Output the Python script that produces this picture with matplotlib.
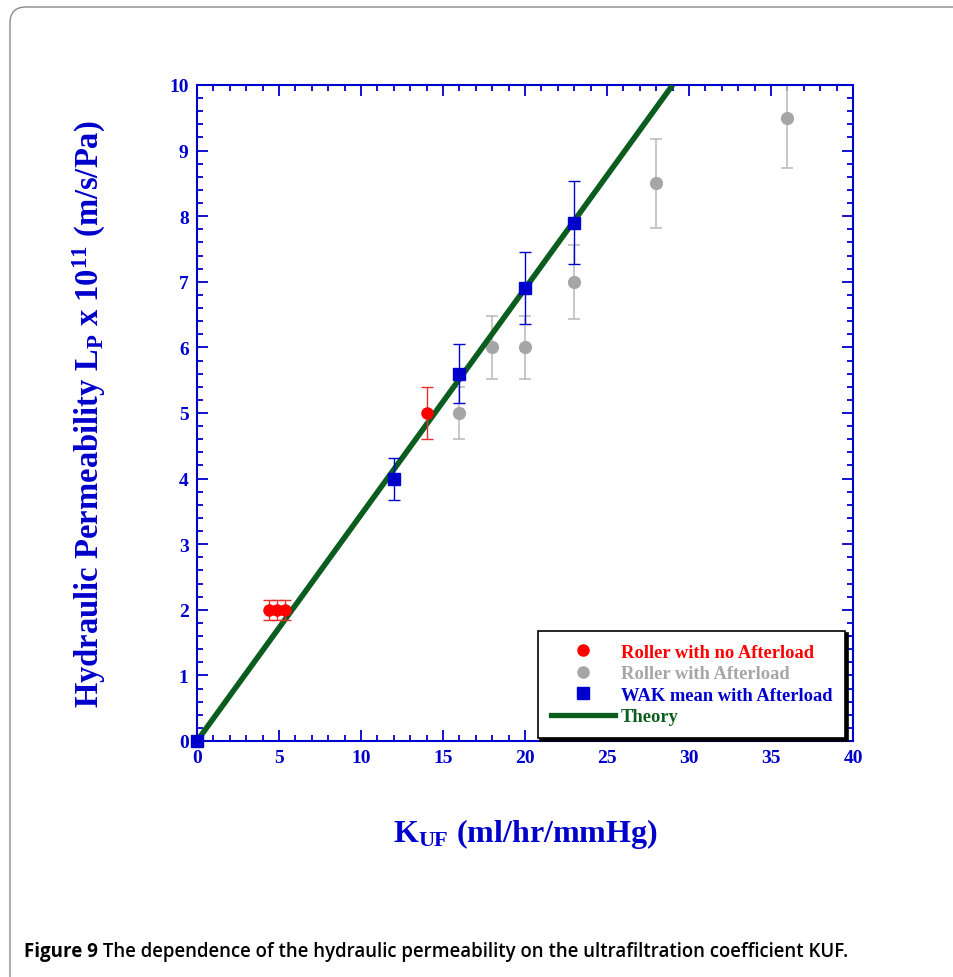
import matplotlib as mpl
mpl.use('Agg')
import matplotlib.pyplot as plt
import matplotlib.lines as mlines
from matplotlib.path import Path
from matplotlib.patches import PathPatch
from matplotlib.ticker import MultipleLocator

# --- data -----------------------------------------------------------------
red_x = [4.4, 4.9, 5.35, 14]
red_y = [2, 2, 2, 5]
red_err = [0.15, 0.15, 0.15, 0.4]

grey_x = [16, 18, 20, 23, 28, 36]
grey_y = [5, 6, 6, 7, 8.5, 9.5]
grey_err = [0.4, 0.48, 0.48, 0.56, 0.68, 0.77]

blue_x = [0, 12, 16, 20, 23]
blue_y = [0, 4, 5.6, 6.9, 7.9]
blue_err = [0, 0.32, 0.45, 0.55, 0.63]

theory_x = [0, 29]
theory_y = [0, 10]

labels = ['Roller with no Afterload', 'Roller with Afterload',
          'WAK mean with Afterload', 'Theory']

# --- style ----------------------------------------------------------------
BLUE = '#0000cc'
RED = '#ff0000'
GREY = '#a6a6a6'
GREY_ERR = '#bdbdbd'
GREEN = '#0b5d1e'
SERIF = 'Liberation Serif'
CAP_FONT = ['Open Sans', 'DejaVu Sans']

plt.rcParams['mathtext.fontset'] = 'custom'
plt.rcParams['mathtext.rm'] = 'Liberation Serif:bold'
plt.rcParams['mathtext.bf'] = 'Liberation Serif:bold'
plt.rcParams['mathtext.default'] = 'bf'

fig = plt.figure(figsize=(9.54, 9.78), dpi=100)

# page frame (rounded corner, top-left) and caption
bg = fig.add_axes([0, 0, 1, 1])
bg.set_xlim(0, 954)
bg.set_ylim(978, 0)
bg.axis('off')
frame = Path([(10, 978), (10, 24), (10, 8), (26, 8), (954, 8)],
             [Path.MOVETO, Path.LINETO, Path.CURVE3, Path.CURVE3, Path.LINETO])
bg.add_patch(PathPatch(frame, fill=False, edgecolor='#8a8a8a', lw=1.0))
cap1 = bg.text(24, 952, 'Figure 9', fontsize=13.5, fontweight='bold',
               family=CAP_FONT, va='center', ha='left')
bg.annotate(' The dependence of the hydraulic permeability on the ultrafiltration coefficient KUF.',
            xy=(1, 0.5), xycoords=cap1, va='center', ha='left', fontsize=13.4,
            fontweight='semibold', family=CAP_FONT)

# --- main axes ------------------------------------------------------------
ax = fig.add_axes([197 / 954, 1 - 742 / 978, 656 / 954, 656 / 978])

ax.plot(theory_x, theory_y, color=GREEN, lw=4.0, zorder=3, solid_capstyle='butt')

ax.errorbar(grey_x, grey_y, yerr=grey_err, fmt='o', color=GREY, ecolor=GREY_ERR,
            ms=8.5, elinewidth=1.2, capsize=4, capthick=1.2, zorder=2)
ax.errorbar(red_x, red_y, yerr=red_err, fmt='o', color=RED, ecolor='#e03030',
            ms=8, elinewidth=1.0, capsize=4, capthick=1.0, zorder=4)
blue = ax.errorbar(blue_x, blue_y, yerr=blue_err, fmt='s', color=BLUE, ecolor=BLUE,
                   ms=8.5, elinewidth=1.0, capsize=4, capthick=1.0, zorder=5)
blue.lines[0].set_clip_on(False)

ax.set_xlim(0, 40)
ax.set_ylim(0, 10)
ax.xaxis.set_major_locator(MultipleLocator(5))
ax.xaxis.set_minor_locator(MultipleLocator(1))
ax.yaxis.set_major_locator(MultipleLocator(1))
ax.yaxis.set_minor_locator(MultipleLocator(0.2))
ax.tick_params(which='both', direction='in', top=True, right=True, color=BLUE,
               labelcolor=BLUE, width=1.3)
ax.tick_params(which='major', length=8, labelsize=14, pad=6)
ax.tick_params(which='minor', length=4.5)
for lab in ax.get_xticklabels() + ax.get_yticklabels():
    lab.set_family(SERIF)
    lab.set_fontweight('bold')
for sp in ax.spines.values():
    sp.set_color(BLUE)
    sp.set_linewidth(1.5)

ax.set_xlabel(r'K$_{\mathbf{UF}}$ (ml/hr/mmHg)', family=SERIF, fontweight='bold',
              fontsize=23, color=BLUE, labelpad=36)
ax.set_ylabel(r'Hydraulic Permeability L$_{\mathbf{P}}$ x 10$^{\mathbf{11}}$ (m/s/Pa)',
              family=SERIF, fontweight='bold', fontsize=23.5, color=BLUE, labelpad=44)

# --- legend ---------------------------------------------------------------
handles = [
    mlines.Line2D([], [], marker='o', ls='none', color=RED, ms=8),
    mlines.Line2D([], [], marker='o', ls='none', color=GREY, ms=8),
    mlines.Line2D([], [], marker='s', ls='none', color=BLUE, ms=8),
    mlines.Line2D([], [], color=GREEN, lw=3.8),
]
leg = ax.legend(handles, labels, loc='lower right', bbox_to_anchor=(0.988, 0.004),
                borderaxespad=0,
                prop={'family': SERIF, 'weight': 'bold', 'size': 13.3},
                frameon=True, fancybox=False, edgecolor='black', framealpha=1,
                shadow={'color': 'black', 'alpha': 1, 'shade': 0},
                handlelength=3.5, handletextpad=0.3, labelspacing=0.25,
                borderpad=0.7)
leg.get_frame().set_linewidth(1.2)
leg.set_zorder(10)
for txt, c in zip(leg.get_texts(), [RED, GREY, BLUE, GREEN]):
    txt.set_color(c)

fig.savefig('out.png', dpi=100)
